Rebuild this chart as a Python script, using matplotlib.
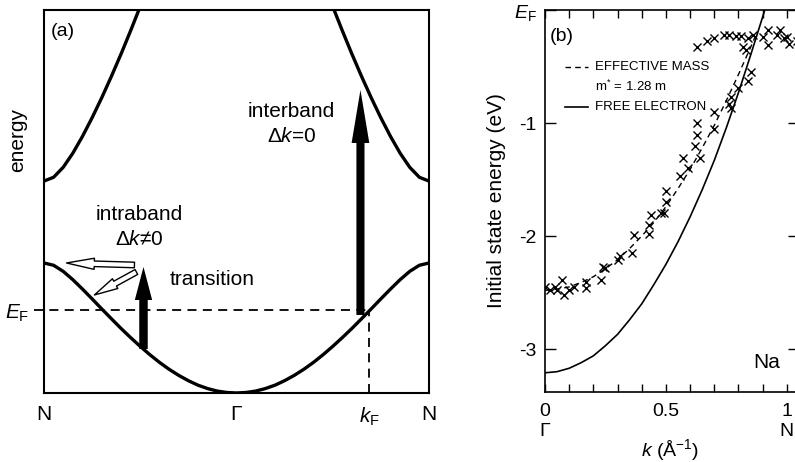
import numpy as np
import matplotlib
matplotlib.use("Agg")
import matplotlib.pyplot as plt
from matplotlib.patches import FancyArrow

plt.rcParams['font.family'] = ['Liberation Sans', 'DejaVu Sans']
plt.rcParams['mathtext.fontset'] = 'custom'
plt.rcParams['mathtext.rm'] = 'Liberation Sans'
plt.rcParams['mathtext.it'] = 'Liberation Sans:italic'
plt.rcParams['axes.unicode_minus'] = False

# --- (a) schematic bands, half zone (Gamma -> N), mirrored below ---
band_k = [0.00, 0.05, 0.10, 0.15, 0.20, 0.25, 0.30, 0.35, 0.40, 0.45, 0.50,
          0.55, 0.60, 0.65, 0.70, 0.75, 0.80, 0.85, 0.90, 0.95, 1.00]
lower_band = [0.000, 0.005, 0.019, 0.044, 0.078, 0.123, 0.176, 0.237, 0.306,
              0.383, 0.466, 0.554, 0.646, 0.743, 0.841, 0.941, 1.039, 1.133,
              1.216, 1.277, 1.300]
upper_k = [0.45, 0.50, 0.55, 0.60, 0.65, 0.70, 0.75, 0.80, 0.85, 0.90, 0.95, 1.00]
upper_band = [4.118, 3.865, 3.622, 3.388, 3.165, 2.952, 2.752, 2.566, 2.398,
              2.257, 2.157, 2.119]
fermi_level = 0.83
k_fermi = 0.69
zone_labels = ["N", "\u0393", r"$k_\mathrm{F}$", "N"]

# --- (b) Na photoemission ---
free_k = [0.00, 0.05, 0.10, 0.15, 0.20, 0.25, 0.30, 0.35, 0.40, 0.45, 0.50,
          0.55, 0.60, 0.65, 0.70, 0.75, 0.80, 0.85, 0.90, 0.95]
free_E = [-3.21, -3.20, -3.17, -3.12, -3.06, -2.97, -2.87, -2.74, -2.60, -2.43,
          -2.25, -2.05, -1.83, -1.59, -1.33, -1.04, -0.73, -0.40, -0.06, 0.30]
eff_k = [0.00, 0.05, 0.10, 0.15, 0.20, 0.25, 0.30, 0.35, 0.40, 0.45, 0.50,
         0.55, 0.60, 0.65, 0.70, 0.75, 0.80, 0.85, 0.87]
eff_E = [-2.48, -2.47, -2.45, -2.41, -2.36, -2.29, -2.21, -2.11, -2.00, -1.88,
         -1.74, -1.58, -1.41, -1.22, -1.02, -0.80, -0.57, -0.33, -0.23]
meas_k = [0.00, 0.02, 0.04, 0.05, 0.07, 0.08, 0.10, 0.12, 0.17, 0.17, 0.23,
          0.24, 0.25, 0.30, 0.31, 0.36, 0.37, 0.43, 0.43, 0.44, 0.48, 0.49,
          0.50, 0.50, 0.56, 0.57, 0.59, 0.62, 0.63, 0.63, 0.64, 0.70, 0.70,
          0.76, 0.77, 0.77, 0.80, 0.84, 0.85, 0.82, 0.83,
          0.63, 0.67, 0.70, 0.74, 0.76, 0.79, 0.81, 0.84, 0.86, 0.90, 0.92,
          0.92, 0.96, 0.97, 0.99, 1.00, 1.01, 1.04]
meas_E = [-2.45, -2.48, -2.45, -2.48, -2.39, -2.52, -2.48, -2.45, -2.41, -2.46,
          -2.39, -2.27, -2.28, -2.21, -2.18, -2.15, -1.99, -1.98, -1.90, -1.81,
          -1.80, -1.80, -1.70, -1.60, -1.47, -1.31, -1.40, -1.20, -1.11, -1.00,
          -1.31, -0.90, -1.05, -0.83, -0.87, -0.77, -0.69, -0.63, -0.55, -0.33,
          -0.35,
          -0.33, -0.27, -0.25, -0.22, -0.22, -0.23, -0.23, -0.25, -0.22, -0.24,
          -0.18, -0.31, -0.22, -0.18, -0.25, -0.24, -0.30, -0.27]
y_ticks = [0, -1, -2, -3]
y_tick_labels = [r"$E_\mathrm{F}$", "-1", "-2", "-3"]

fig = plt.figure(figsize=(7.95, 4.62), dpi=100)

# ---------------- panel (a) ----------------
ax = fig.add_axes([0.0553, 0.1494, 0.4843, 0.829])
bk = np.array(band_k)
full_k = np.concatenate([-bk[::-1], bk[1:]])
full_low = np.concatenate([np.array(lower_band)[::-1], lower_band[1:]])
ax.plot(full_k, full_low, color="black", lw=2.4, solid_capstyle="butt")
uk = np.array(upper_k)
ax.plot(-uk, upper_band, color="black", lw=2.4)
ax.plot(uk, upper_band, color="black", lw=2.4)
ax.set_xlim(-1, 1)
ax.set_ylim(0, 3.83)

# Fermi level and k_F guide lines
ax.plot([-1.05, k_fermi], [fermi_level, fermi_level], color="black", lw=1.3,
        dashes=(5, 3.5), clip_on=False)
ax.plot([k_fermi, k_fermi], [0, fermi_level], color="black", lw=1.3,
        dashes=(5, 3.5))

# transitions
ax.add_patch(FancyArrow(-0.483, 0.44, 0, 0.82, width=0.044, head_width=0.09,
                        head_length=0.33, length_includes_head=True,
                        color="black", lw=0))
ax.add_patch(FancyArrow(0.644, 0.78, 0, 2.25, width=0.042, head_width=0.092,
                        head_length=0.53, length_includes_head=True,
                        color="black", lw=0))
hollow = dict(arrowstyle="simple,head_length=2.0,head_width=0.8,tail_width=0.4",
              fc="white", ec="black", lw=1.0, shrinkA=0, shrinkB=0,
              mutation_scale=10)
ax.annotate("", xy=(-0.883, 1.30), xytext=(-0.53, 1.28), arrowprops=hollow)
hollow2 = dict(hollow,
               arrowstyle="simple,head_length=1.7,head_width=0.8,tail_width=0.4")
ax.annotate("", xy=(-0.738, 0.98), xytext=(-0.52, 1.21), arrowprops=hollow2)

ax.text(-0.904, 3.61, "(a)", fontsize=14, ha="center", va="center")
ax.text(0.286, 2.81, "interband", fontsize=15, ha="center", va="center")
ax.text(0.286, 2.56, "\u0394$k$=0", fontsize=15, ha="center", va="center")
ax.text(-0.504, 1.78, "intraband", fontsize=15, ha="center", va="center")
ax.text(-0.504, 1.53, "\u0394$k$\u22600", fontsize=15, ha="center", va="center")
ax.text(-0.348, 1.13, "transition", fontsize=15, ha="left", va="center")
ax.text(-1.138, 0.80, r"$E_\mathrm{F}$", fontsize=15, ha="center",
        va="center", clip_on=False)
fig.text(0.0226, 0.697, "energy", fontsize=15, rotation=90, ha="center",
         va="center")

ax.set_xticks([-1, 0, k_fermi, 1])
ax.set_xticklabels(zone_labels, fontsize=15)
ax.tick_params(axis="x", length=0, pad=9)
ax.set_yticks([])
for s in ax.spines.values():
    s.set_linewidth(1.5)

# ---------------- panel (b) ----------------
bx = fig.add_axes([0.6855, 0.1515, 0.3195, 0.8268])
bx.plot(free_k, free_E, color="black", lw=1.2)
bx.plot(eff_k, eff_E, color="black", lw=1.0, dashes=(4, 3))
bx.plot(meas_k, meas_E, "x", color="black", ms=5.5, mew=1.0)
bx.set_xlim(0, 1.05)
bx.set_ylim(-3.38, 0)

xt = np.round(np.arange(0, 1.01, 0.1), 1)
bx.set_xticks(xt)
bx.set_xticklabels(["0\n\u0393" if v == 0 else "0.5" if v == 0.5 else
                    "1\nN" if v == 1 else "" for v in xt], fontsize=14,
                   linespacing=1.25)
bx.set_yticks(y_ticks)
bx.set_yticklabels(y_tick_labels, fontsize=14)
bx.tick_params(axis="x", direction="in", length=6, width=1, top=True, pad=8)
bx.tick_params(axis="y", direction="in", length=8, width=1, right=True, pad=6)
for s in bx.spines.values():
    s.set_linewidth(1.2)

bx.set_ylabel("Initial state energy (eV)", fontsize=15, labelpad=6)
fig.text(0.843, 0.025, r"$k$ (Å$^{-1}$)", fontsize=14, ha="center",
         va="center")

# legend drawn by hand
bx.plot([0.079, 0.169], [0.851, 0.851], transform=bx.transAxes, color="black",
        lw=1.0, dashes=(4, 3))
bx.plot([0.079, 0.169], [0.746, 0.746], transform=bx.transAxes, color="black",
        lw=1.2)
bx.text(0.197, 0.851, "EFFECTIVE MASS", transform=bx.transAxes, fontsize=9.5,
        va="center")
bx.text(0.197, 0.801, r"m$^{*}$ = 1.28 m", transform=bx.transAxes,
        fontsize=9.5, va="center")
bx.text(0.197, 0.746, "FREE ELECTRON", transform=bx.transAxes, fontsize=9.5,
        va="center")
bx.text(0.067, 0.932, "(b)", transform=bx.transAxes, fontsize=14, ha="center",
        va="center")
bx.text(0.874, 0.076, "Na", transform=bx.transAxes, fontsize=15, ha="center",
        va="center")

fig.savefig("out.png", dpi=100)
